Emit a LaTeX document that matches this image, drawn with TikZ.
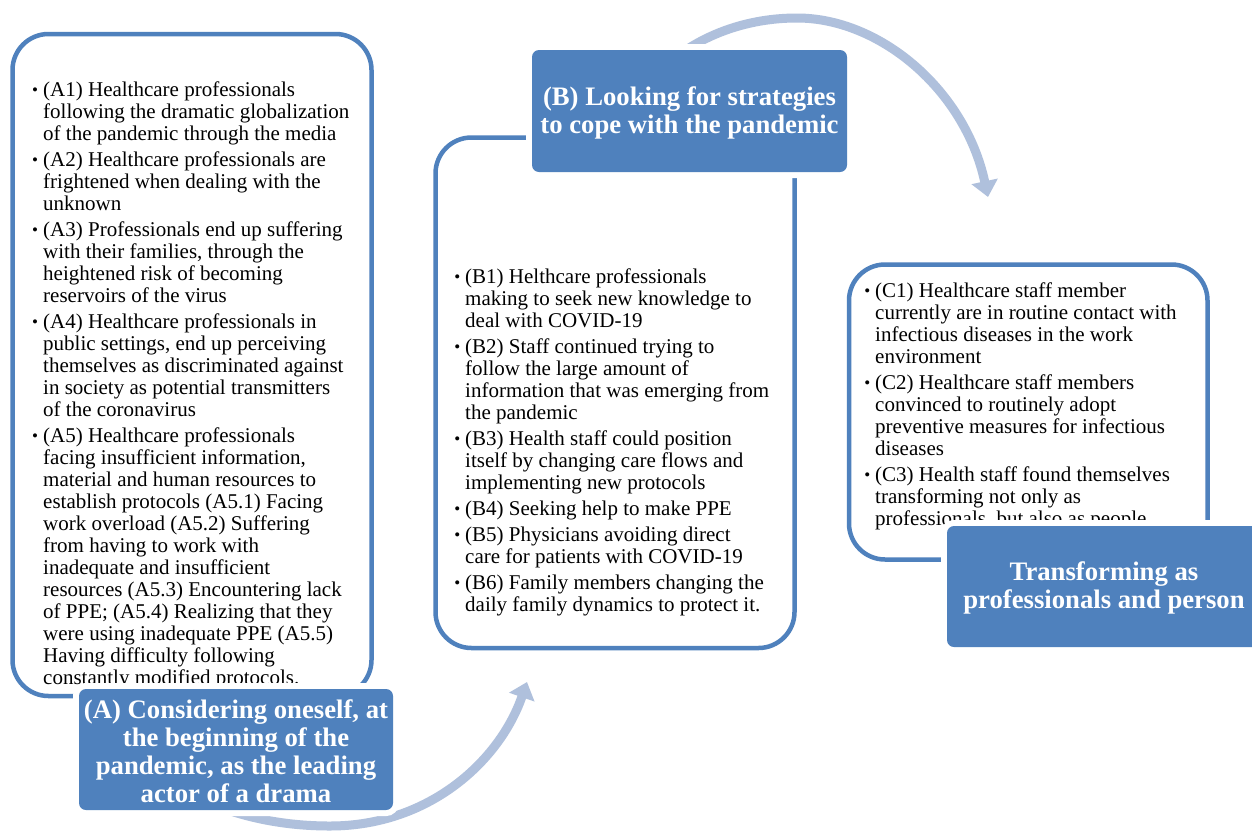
\documentclass[tikz,border=0pt]{standalone}
\usepackage{fontspec}
\setmainfont{Liberation Serif}
\usetikzlibrary{arrows.meta}
\definecolor{boxblue}{HTML}{4F81BD}
\definecolor{arrowblue}{HTML}{AFC0DC}
\newcommand{\bul}{\strut\llap{\raisebox{1.2pt}{\fontsize{17}{17}\selectfont\textbullet}\hspace{5pt}}}
\newcommand{\lift}{\rule{0pt}{22.5pt}}
\begin{document}
\begin{tikzpicture}[x=1pt,y=-1pt,
  outline/.style={draw=boxblue, line width=4.5pt, rounded corners=36pt, fill=white},
  labelbox/.style={fill=boxblue, rounded corners=7pt, text=white, inner sep=0pt,
    font=\fontsize{26.7}{28}\selectfont\bfseries, align=center,
    preaction={draw=white, line width=12pt}},
  items/.style={anchor=north west, inner sep=0pt, align=left, font=\fontsize{21}{22}\selectfont},
  cycle arrow/.style={draw=arrowblue, line width=9pt, -{Triangle[width=26pt,length=16pt]}}
]
\useasboundingbox (0,0) rectangle (1252,833);
\fill[white] (0,0) rectangle (1252,833);

% cycle arrows (behind everything)
\coordinate (t0) at (683,52);
\coordinate (tpeak) at (797,18);
\coordinate (ttip) at (988,197);
\draw[cycle arrow] (t0) .. controls (715,30) and (755,18) .. (tpeak)
  .. controls (880,18) and (965,90) .. (ttip);
\coordinate (b0) at (222,808);
\coordinate (blow) at (330,826);
\coordinate (btip) at (527,682);
\draw[cycle arrow] (b0) .. controls (258,821) and (295,826) .. (blow)
  .. controls (430,826) and (500,760) .. (btip);

% outlined boxes
\draw[outline] (12.5,34) rectangle (371.5,696);
\draw[outline] (435.5,137.5) rectangle (794.5,648);
\draw[outline] (849,264.5) rectangle (1207.5,559.5);

% lists
\node[items] (listA) at (43,80.6) {%
\bul(A1) Healthcare professionals\\
following the dramatic globalization\\
of the pandemic through the media\\[4pt]
\bul(A2) Healthcare professionals are\\
frightened when dealing with the\\
unknown\\[4pt]
\bul(A3) Professionals end up suffering\\
with their families, through the\\
heightened risk of becoming\\
reservoirs of the virus\\[4pt]
\bul(A4) Healthcare professionals in\\
public settings, end up perceiving\\
themselves as discriminated against\\
in society as potential transmitters\\
of the coronavirus\\[4pt]
\bul(A5) Healthcare professionals\\
facing insufficient information,\\
material and human resources to\\
establish protocols (A5.1) Facing\\
work overload (A5.2) Suffering\\
from having to work with\\
inadequate and insufficient\\
resources (A5.3) Encountering lack\\
of PPE; (A5.4) Realizing that they\\
were using inadequate PPE (A5.5)\\
Having difficulty following\\
constantly modified protocols.};

\node[items] (listB) at (465,268.3) {%
\bul(B1) Helthcare professionals\\
making to seek new knowledge to\\
deal with COVID-19\\[4pt]
\bul(B2) Staff continued trying to\\
follow the large amount of\\
information that was emerging from\\
the pandemic\\[4pt]
\bul(B3) Health staff could position\\
itself by changing care flows and\\
implementing new protocols\\[4pt]
\bul(B4) Seeking help to make PPE\\[4pt]
\bul(B5) Physicians avoiding direct\\
care for patients with COVID-19\\[4pt]
\bul(B6) Family members changing the\\
daily family dynamics to protect it.};

\node[items] (listC) at (875,281.6) {%
\bul(C1) Healthcare staff member\\
currently are in routine contact with\\
infectious diseases in the work\\
environment\\[4pt]
\bul(C2) Healthcare staff members\\
convinced to routinely adopt\\
preventive measures for infectious\\
diseases\\[4pt]
\bul(C3) Health staff found themselves\\
transforming not only as\\
professionals, but also as people.};

% label boxes
\node[labelbox, minimum width=314pt, minimum height=121pt] (labA) at (236,749.5)
  {\lift(A) Considering oneself, at\\the beginning of the\\pandemic, as the leading\\actor of a drama};
\node[labelbox, minimum width=315pt, minimum height=122pt] (labB) at (689.5,111)
  {\lift(B) Looking for strategies\\to cope with the pandemic};
\node[labelbox, minimum width=314pt, minimum height=121pt] (labC) at (1104,586.5)
  {\lift Transforming as\\professionals and person};
\end{tikzpicture}
\end{document}
